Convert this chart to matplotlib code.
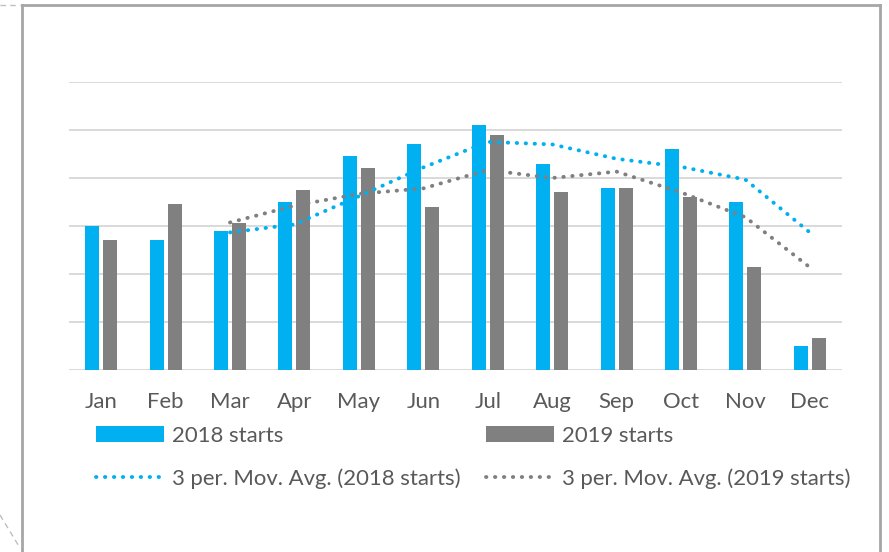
import matplotlib
matplotlib.use('Agg')
import matplotlib.pyplot as plt
import numpy as np
import pandas as pd

months = ['Jan', 'Feb', 'Mar', 'Apr', 'May', 'Jun', 'Jul', 'Aug', 'Sep', 'Oct', 'Nov', 'Dec']
starts_2018 = [30, 27, 29, 35, 44.6, 47, 51, 43, 38, 46, 35, 5]
starts_2019 = [27, 34.6, 30.6, 37.5, 42, 34, 49, 37, 38, 36, 21.5, 6.7]

blue = '#00b0f0'
grey = '#808080'
txt = '#595959'

plt.rcParams['font.family'] = ['Lato', 'DejaVu Sans']

# 3 period moving average trendlines (excel style)
ma_2018 = pd.Series(starts_2018).rolling(3).mean()
ma_2019 = pd.Series(starts_2019).rolling(3).mean()

fig = plt.figure(figsize=(8.89, 5.52), dpi=100)
ax = fig.add_axes([69/889, (552-370)/552, (842-69)/889, (370-82)/552])

x = np.arange(len(months))
w = 0.217
b1 = ax.bar(x - 0.14, starts_2018, w, color=blue, label='2018 starts', zorder=2)
b2 = ax.bar(x + 0.14, starts_2019, w, color=grey, label='2019 starts', zorder=2)
dots = (0, (0.1, 2.2))
l1, = ax.plot(x, ma_2018, color=blue, linestyle=dots, dash_capstyle='round',
              linewidth=2.8, label='3 per. Mov. Avg. (2018 starts)', zorder=3)
l2, = ax.plot(x, ma_2019, color=grey, linestyle=dots, dash_capstyle='round',
              linewidth=2.8, label='3 per. Mov. Avg. (2019 starts)', zorder=3)

ax.set_xlim(-0.5, 11.5)
ax.set_ylim(0, 60)
ax.set_yticks(np.arange(0, 61, 10))
ax.set_yticklabels([])
ax.yaxis.grid(True, color='#d9d9d9', linewidth=1.4, zorder=0)
ax.set_axisbelow(True)
ax.tick_params(axis='y', length=0)
ax.set_xticks(x)
ax.set_xticklabels(months, fontsize=15.9, color=txt)
ax.tick_params(axis='x', length=0, pad=16)
for s in ax.spines.values():
    s.set_visible(False)

leg = ax.legend(handles=[b1, l1, b2, l2], ncol=2, frameon=False, fontsize=15.9,
                labelcolor=txt, handlelength=3.1, handletextpad=0.36,
                columnspacing=1.14, labelspacing=1.0,
                loc='upper left', bbox_to_anchor=(0.009, -0.125))

# slide frame
frame_col = '#a6a6a6'
fig.add_artist(plt.Line2D([22/889, 880/889], [1-5/552, 1-5/552], color=frame_col, lw=2))
fig.add_artist(plt.Line2D([22/889, 22/889], [0, 1-5/552], color=frame_col, lw=2))
fig.add_artist(plt.Line2D([880/889, 880/889], [0, 1-5/552], color=frame_col, lw=2))
fig.add_artist(plt.Line2D([0, 20/889], [1-5/552, 1-5/552], color='#bfbfbf', lw=1, linestyle=(0, (4, 3))))
fig.add_artist(plt.Line2D([0, 20/889], [1-515/552, 1-548/552], color='#bfbfbf', lw=1, linestyle=(0, (4, 3))))

fig.savefig('out.png', dpi=100)
